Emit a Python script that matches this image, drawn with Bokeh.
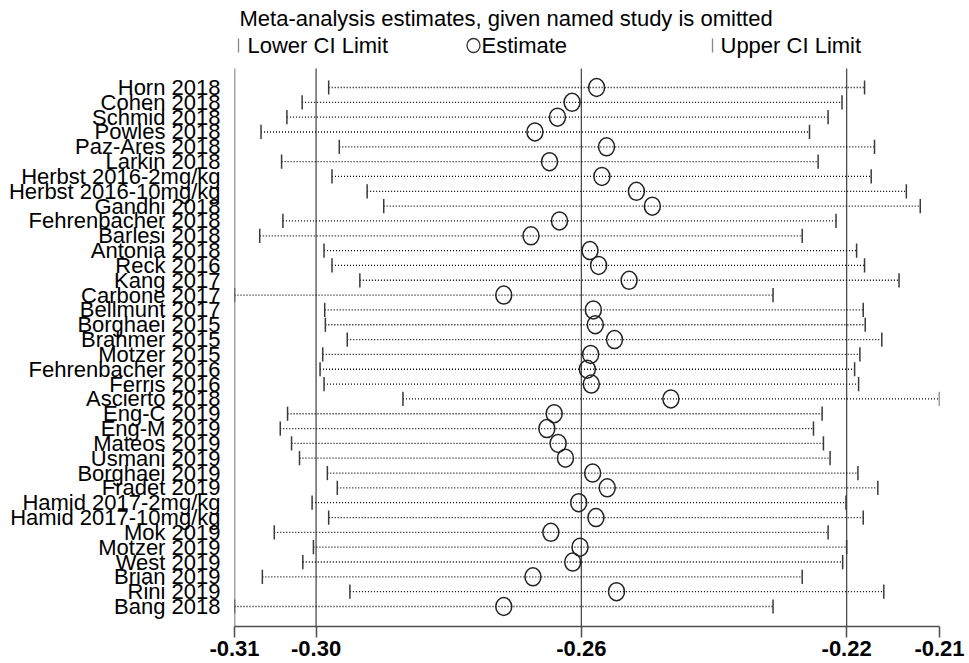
from bokeh.plotting import figure
from bokeh.models import Range1d, FixedTicker, PrintfTickFormatter, ColumnDataSource
from bokeh.core.properties import value
from bokeh.embed import file_html
from bokeh.resources import INLINE

# ---------------- data ----------------
studies = ["Horn 2018", "Cohen 2018", "Schmid 2018", "Powles 2018", "Paz-Ares 2018",
           "Larkin 2018", "Herbst 2016-2mg/kg", "Herbst 2016-10mg/kg", "Gandhi 2018",
           "Fehrenbacher 2018", "Barlesi 2018", "Antonia 2018", "Reck 2016", "Kang 2017",
           "Carbone 2017", "Bellmunt 2017", "Borghaei 2015", "Brahmer 2015", "Motzer 2015",
           "Fehrenbacher 2016", "Ferris 2016", "Ascierto 2018", "Eng-C 2019", "Eng-M 2019",
           "Mateos 2019", "Usmani 2019", "Borghaei 2019", "Fradet 2019", "Hamid 2017-2mg/kg",
           "Hamid 2017-10mg/kg", "Mok 2019", "Motzer 2019", "West 2019", "Brian 2019",
           "Rini 2019", "Bang 2018"]
lower = [-0.2981, -0.3021, -0.3044, -0.3083, -0.2965, -0.3052, -0.2976, -0.2923, -0.2898,
         -0.3050, -0.3085, -0.2988, -0.2976, -0.2934, -0.3123, -0.2987, -0.2986, -0.2953,
         -0.2990, -0.2994, -0.2988, -0.2869, -0.3043, -0.3054, -0.3037, -0.3025, -0.2983,
         -0.2968, -0.3006, -0.2981, -0.3063, -0.3004, -0.3020, -0.3081, -0.2949, -0.3123]
estimate = [-0.2577, -0.2614, -0.2636, -0.2670, -0.2562, -0.2648, -0.2569, -0.2517, -0.2493,
            -0.2633, -0.2676, -0.2587, -0.2574, -0.2528, -0.2717, -0.2582, -0.2579, -0.2550,
            -0.2586, -0.2591, -0.2585, -0.2465, -0.2641, -0.2652, -0.2635, -0.2624, -0.2583,
            -0.2561, -0.2604, -0.2578, -0.2646, -0.2602, -0.2613, -0.2673, -0.2547, -0.2717]
upper = [-0.2173, -0.2207, -0.2228, -0.2256, -0.2158, -0.2243, -0.2163, -0.2110, -0.2089,
         -0.2216, -0.2267, -0.2185, -0.2173, -0.2121, -0.2311, -0.2175, -0.2172, -0.2147,
         -0.2180, -0.2188, -0.2182, -0.2060, -0.2237, -0.2250, -0.2235, -0.2225, -0.2183,
         -0.2153, -0.2201, -0.2175, -0.2228, -0.2200, -0.2206, -0.2267, -0.2144, -0.2311]
overall = [-0.30, -0.26, -0.22]   # overall lower CI, estimate, upper CI

title_text = "Meta-analysis estimates, given named study is omitted"
legend_texts = ["Lower CI Limit", "Estimate", "Upper CI Limit"]

# ---------------- layout (pixels) ----------------
FONT = "Liberation Sans"
W, H = 969, 663
FL, FR, FB = 234, 939, 626          # frame left/right/bottom; frame top = 0
LINE_TOP = 68                        # where the vertical lines start
ROW_FIRST, ROW_LAST = 87, 606
n = len(studies)
rows = list(range(1, n + 1))
row_px = (ROW_LAST - ROW_FIRST) / (n - 1)
y_top = 1 - ROW_FIRST / row_px
y_bot = n + (FB - ROW_LAST) / row_px

xmin = min(lower)
xmax = max(upper)

def dx(px):
    return xmin + (px - FL) / (FR - FL) * (xmax - xmin)

def dy(py):
    return y_top + py / row_px

p = figure(frame_width=FR - FL, frame_height=FB,
           x_range=Range1d(xmin, xmax), y_range=Range1d(y_bot, y_top),
           output_backend="svg", toolbar_location=None, title=None,
           min_border_left=FL, min_border_top=0, min_border_right=W - FR,
           min_border_bottom=H - FB)
p.outline_line_color = None
p.xgrid.visible = False
p.ygrid.visible = False
p.background_fill_color = "white"
p.border_fill_color = "white"

AX = "#4d4d4d"
# x axis
xa = p.xaxis[0]
xa.ticker = FixedTicker(ticks=[xmin] + overall + [xmax])
xa.formatter = PrintfTickFormatter(format="%.2f")
xa.axis_line_color = AX
xa.axis_line_width = 1.5
xa.major_tick_line_color = AX
xa.major_tick_line_width = 1.5
xa.major_tick_out = 11
xa.major_tick_in = 0
xa.minor_tick_line_color = None
xa.major_label_text_font = FONT
xa.major_label_text_font_size = "22px"
xa.major_label_text_font_style = "bold"
xa.major_label_text_color = "black"
xa.major_label_standoff = 3

# y axis (labels only; line drawn below from LINE_TOP)
ya = p.yaxis[0]
ya.ticker = FixedTicker(ticks=rows)
ya.major_label_overrides = {r: s for r, s in zip(rows, studies)}
ya.axis_line_color = None
ya.major_tick_line_color = None
ya.major_tick_out = 0
ya.major_tick_in = 0
ya.minor_tick_line_color = None
ya.major_label_text_font = FONT
ya.major_label_text_font_size = "22px"
ya.major_label_text_color = "black"
ya.major_label_standoff = 14

# left axis line and overall reference lines
p.segment(x0=[xmin], x1=[xmin], y0=[dy(LINE_TOP)], y1=[y_bot], line_color=AX, line_width=1.5)
p.segment(x0=overall, x1=overall, y0=[dy(LINE_TOP)] * 3, y1=[y_bot] * 3,
          line_color=AX, line_width=1.3)

src = ColumnDataSource(dict(y=rows, lo=lower, est=estimate, up=upper,
                            ya=[r - 0.48 for r in rows], yb=[r + 0.48 for r in rows]))
p.segment(x0="lo", x1="up", y0="y", y1="y", source=src,
          line_color="black", line_width=1.3, line_dash="1 2")
p.segment(x0="lo", x1="lo", y0="ya", y1="yb", source=src, line_color="#3a3a3a", line_width=1.5)
p.segment(x0="up", x1="up", y0="ya", y1="yb", source=src, line_color="#3a3a3a", line_width=1.5)
p.ellipse(x="est", y="y", width=16, height=18, width_units="screen", height_units="screen",
          source=src, fill_color=None, line_color="#222222", line_width=1.5)

# title and legend
p.text(x=[dx(239)], y=[dy(17.5)], text=[title_text], text_font=value(FONT),
       text_font_size="22px", text_color="black", text_baseline="middle", text_align="left")
p.segment(x0=[dx(238), dx(712)], x1=[dx(238), dx(712)], y0=[dy(38)] * 2, y1=[dy(52)] * 2,
          line_color="#888888", line_width=1.3)
p.ellipse(x=[dx(473)], y=[dy(45)], width=13, height=14, width_units="screen",
          height_units="screen", fill_color=None, line_color="#333333", line_width=1.3)
p.text(x=[dx(247), dx(481), dx(720)], y=[dy(45)] * 3, text=legend_texts, text_font=value(FONT),
       text_font_size="22px", text_color="black", text_baseline="middle", text_align="left")

html = file_html(p, INLINE)
html = html.replace("<head>", "<head><style>html,body{overflow:hidden;}</style>", 1)
open("out.html", "w").write(html)
